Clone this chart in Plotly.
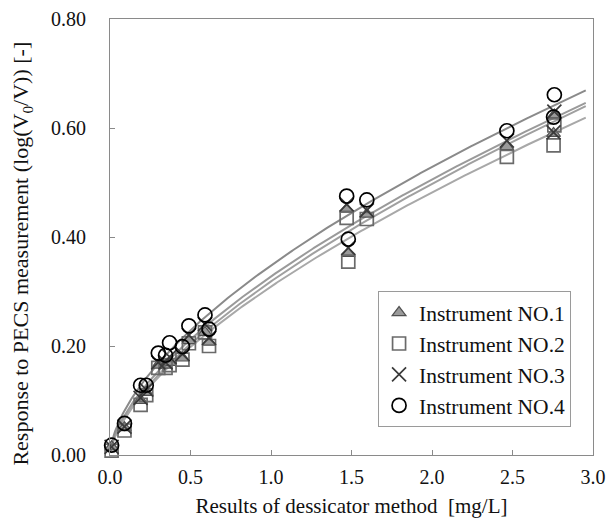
import numpy as np
import plotly.graph_objects as go

# Results of dessicator method [mg/L] (same samples for all instruments)
x_dessicator = [0.01, 0.09, 0.19, 0.225, 0.30, 0.345, 0.37, 0.45, 0.49, 0.59, 0.615,
                1.47, 1.48, 1.595, 2.465, 2.76, 2.755]

# Response to PECS measurement log(V0/V)
y_no1 = [0.015, 0.050, 0.100, 0.115, 0.165, 0.165, 0.170, 0.178, 0.210, 0.225, 0.207,
         0.451, 0.370, 0.442, 0.566, 0.624, 0.590]
y_no2 = [0.008, 0.045, 0.092, 0.110, 0.160, 0.160, 0.165, 0.175, 0.205, 0.225, 0.200,
         0.435, 0.355, 0.433, 0.547, 0.605, 0.568]
y_no3 = [0.015, 0.052, 0.105, 0.120, 0.170, 0.170, 0.180, 0.185, 0.220, 0.240, 0.215,
         0.460, 0.380, 0.449, 0.577, 0.630, 0.592]
y_no4 = [0.018, 0.058, 0.128, 0.128, 0.187, 0.183, 0.206, 0.199, 0.237, 0.257, 0.231,
         0.475, 0.396, 0.468, 0.595, 0.661, 0.620]

names = ["Instrument NO.1", "Instrument NO.2", "Instrument NO.3", "Instrument NO.4"]
series = [y_no1, y_no2, y_no3, y_no4]
symbols = ["triangle-up", "square-open", "x-thin-open", "circle-open"]
fills = ["#9a9a9a", "#6a6a6a", "#3a3a3a", "#000000"]
outlines = ["#505050", "#6a6a6a", "#3a3a3a", "#000000"]
sizes = [12, 13, 14, 14]
line_colors = ["#a0a0a0", "#a8a8a8", "#9a9a9a", "#8a8a8a"]

x_title = "Results of dessicator method  [mg/L]"
y_title = "Response to PECS measurement (log(V<sub>0</sub>/V)) [-]"

fig = go.Figure()

# power trendlines y = a*x^b, least squares (residuals weighted to linear scale)
xs = np.array(x_dessicator)
xfit = np.linspace(0.003, 2.955, 300)
for ys, lc in zip(series, line_colors):
    ya = np.array(ys)
    b, lna = np.polyfit(np.log(xs), np.log(ya), 1, w=ya)
    fig.add_trace(go.Scatter(x=xfit, y=np.exp(lna) * xfit ** b, mode="lines",
                             line=dict(color=lc, width=2), showlegend=False,
                             hoverinfo="skip"))

for name, ys, sym, fc, oc, sz in zip(names, series, symbols, fills, outlines, sizes):
    fig.add_trace(go.Scatter(
        x=x_dessicator, y=ys, mode="markers", name=name, cliponaxis=False,
        marker=dict(symbol=sym, size=sz, color=fc,
                    line=dict(color=oc, width=1.7 if "open" in sym else 1.2)),
    ))

font_family = "Liberation Serif"
fig.update_layout(
    width=606, height=520,
    margin=dict(l=110, r=13, t=19, b=65),
    paper_bgcolor="white", plot_bgcolor="white",
    font=dict(family=font_family, size=20, color="#111111"),
    legend=dict(x=0.555, y=0.376, xanchor="left", yanchor="top",
                bgcolor="white", bordercolor="#9a9a9a", borderwidth=1,
                font=dict(family=font_family, size=21.5, color="#111111"),
                tracegroupgap=0, itemwidth=30),
    showlegend=True,
    annotations=[dict(text=y_title, textangle=-90, xref="paper", yref="paper",
                      x=0, y=0.462, xanchor="center", yanchor="middle",
                      xshift=-88, showarrow=False,
                      font=dict(family=font_family, size=22, color="#111111"))],
)
fig.update_xaxes(
    range=[0, 3.0], dtick=0.5, tick0=0, tickformat=".1f", automargin=False,
    showgrid=False, zeroline=False,
    showline=True, linecolor="#8a8a8a", linewidth=1, mirror=True,
    ticks="inside", ticklen=5, tickcolor="#8a8a8a",
    ticklabelstandoff=4, tickfont=dict(size=20),
    title=dict(text=x_title, standoff=11,
               font=dict(family=font_family, size=21)),
)
fig.update_yaxes(
    range=[0, 0.8], dtick=0.2, tick0=0, tickformat=".2f", automargin=False,
    showgrid=False, zeroline=False,
    showline=True, linecolor="#8a8a8a", linewidth=1, mirror=True,
    ticks="inside", ticklen=5, tickcolor="#8a8a8a",
    ticklabelstandoff=19, tickfont=dict(size=20),
)

fig.write_html("out.html")
